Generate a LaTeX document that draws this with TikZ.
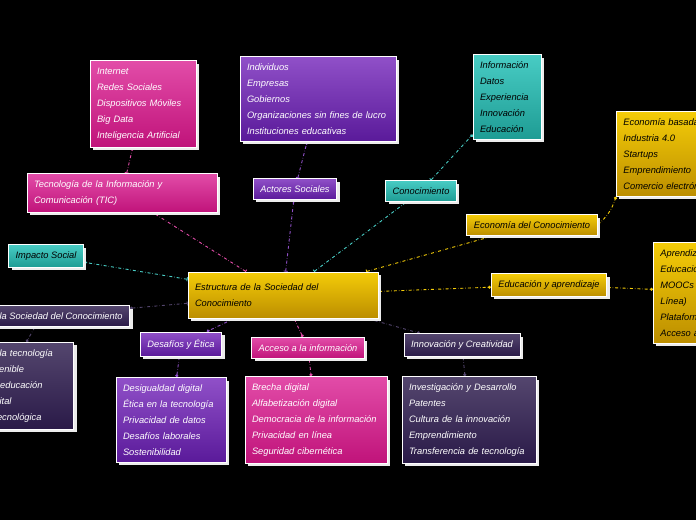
\documentclass[tikz,border=0pt]{standalone}
\usepackage{fontspec}
\setmainfont{Liberation Sans}
\usetikzlibrary{shadows,arrows.meta,backgrounds}
\definecolor{pinkT}{HTML}{E24CA8}\definecolor{pinkB}{HTML}{C0137A}
\definecolor{purT}{HTML}{9050C8}\definecolor{purB}{HTML}{5A1A9A}
\definecolor{tealT}{HTML}{48CCC4}\definecolor{tealB}{HTML}{1E9C94}
\definecolor{goldT}{HTML}{F4CC08}\definecolor{goldB}{HTML}{BC8E00}
\definecolor{darkT}{HTML}{54466E}\definecolor{darkB}{HTML}{2A1A48}
\begin{document}
\begin{tikzpicture}[x=1pt,y=-1pt,
      every node/.style={font=\itshape\fontsize{9.3}{16}\selectfont,text=black},
      box/.style={rectangle,draw=white,line width=0.8pt,inner xsep=7pt,inner ysep=7pt,
                  shading=axis,shading angle=0,
                  drop shadow={fill=white!85!gray,opacity=1,shadow xshift=3pt,shadow yshift=-3pt}},
      pinkbox/.style={box,top color=pinkT,bottom color=pinkB,text=white},
      purbox/.style={box,top color=purT,bottom color=purB,text=white},
      tealbox/.style={box,top color=tealT,bottom color=tealB},
      goldbox/.style={box,top color=goldT,bottom color=goldB},
      darkbox/.style={box,top color=darkT,bottom color=darkB,text=white},
      link/.style={dash dot,line width=0.9pt,{Bar[width=4pt]}-{Circle[length=3pt]}},
    ]
      \useasboundingbox (0,0) rectangle (696,520);
      \clip (0,0) rectangle (696,520);
      % main node
      \node[goldbox,text width=176pt,align=left,minimum height=46pt] (estructura) at (283,295)
        {Estructura de la Sociedad del\\Conocimiento};
      % branches
      \node[pinkbox,text width=176pt,align=left] (tic) at (122,193)
        {Tecnología de la Información y\\Comunicación (TIC)};
      \node[pinkbox,text width=92pt,align=left] (ticlist) at (143,104)
        {Internet\\Redes Sociales\\Dispositivos Móviles\\Big Data\\Inteligencia Artificial};
      \node[purbox] (actores) at (295,189) {Actores Sociales};
      \node[purbox,text width=142pt,align=left] (actlist) at (318,99)
        {Individuos\\Empresas\\Gobiernos\\Organizaciones sin fines de lucro\\Instituciones educativas};
      \node[tealbox] (conoc) at (421,191) {Conocimiento};
      \node[tealbox,text width=54pt,align=left] (conlist) at (507,97)
        {Información\\Datos\\Experiencia\\Innovación\\Educación};
      \node[goldbox] (econ) at (532,225) {Economía del Conocimiento};
      \node[goldbox,text width=190pt,align=left,anchor=north west] (econlist) at (616,111)
        {Economía basada en el conocimiento\\Industria 4.0\\Startups\\Emprendimiento\\Comercio electrónico};
      \node[goldbox] (educ) at (549,285) {Educación y aprendizaje};
      \node[goldbox,text width=150pt,align=left,anchor=north west] (educlist) at (653,242)
        {Aprendizaje permanente\\Educación a distancia\\MOOCs (Cursos en\\Línea)\\Plataformas digitales\\Acceso abierto};
      \node[tealbox] (impacto) at (46,256) {Impacto Social};
      \node[darkbox,anchor=east] (retos) at (130,316) {Retos de la Sociedad del Conocimiento};
      \node[darkbox,text width=130pt,align=left,anchor=north east] (retlist) at (74,342)
        {Regulación de la tecnología\\Desarrollo sostenible\\Inclusión en la educación\\Ciudadanía digital\\Dependencia tecnológica};
      \node[purbox] (desafios) at (181,344) {Desafíos y Ética};
      \node[purbox,text width=96pt,align=left] (deslist) at (171,420)
        {Desigualdad digital\\Ética en la tecnología\\Privacidad de datos\\Desafíos laborales\\Sostenibilidad};
      \node[pinkbox] (acceso) at (308,348) {Acceso a la información};
      \node[pinkbox,text width=128pt,align=left] (acclist) at (316,420)
        {Brecha digital\\Alfabetización digital\\Democracia de la información\\Privacidad en línea\\Seguridad cibernética};
      \node[darkbox] (innov) at (462,345) {Innovación y Creatividad};
      \node[darkbox,text width=120pt,align=left] (innlist) at (469,420)
        {Investigación y Desarrollo\\Patentes\\Cultura de la innovación\\Emprendimiento\\Transferencia de tecnología};
      % connectors
      \begin{scope}[on background layer]
      \fill[black] (0,0) rectangle (696,520);
      \draw[link,pinkT] (estructura) -- (tic);
      \draw[link,pinkT] (tic) -- (ticlist);
      \draw[link,purT] (estructura) -- (actores);
      \draw[link,purT] (actores) -- (actlist);
      \draw[link,tealT] (estructura) -- (conoc);
      \draw[link,tealT] (conoc) -- (conlist);
      \draw[link,goldT] (estructura) -- (econ);
      \draw[link,goldT] (econ.east) to[bend right=15] (econlist.south west);
      \draw[link,goldT] (estructura) -- (educ);
      \draw[link,goldT] (educ) -- (educlist);
      \draw[link,tealT] (estructura) -- (impacto);
      \draw[link,darkT] (estructura) -- (retos);
      \draw[link,darkT] (retos) -- (retlist);
      \draw[link,purT] (estructura) -- (desafios);
      \draw[link,purT] (desafios) -- (deslist);
      \draw[link,pinkT] (estructura) -- (acceso);
      \draw[link,pinkT] (acceso) -- (acclist);
      \draw[link,darkT] (estructura) -- (innov);
      \draw[link,darkT] (innov) -- (innlist);
      \end{scope}
\end{tikzpicture}
\end{document}
